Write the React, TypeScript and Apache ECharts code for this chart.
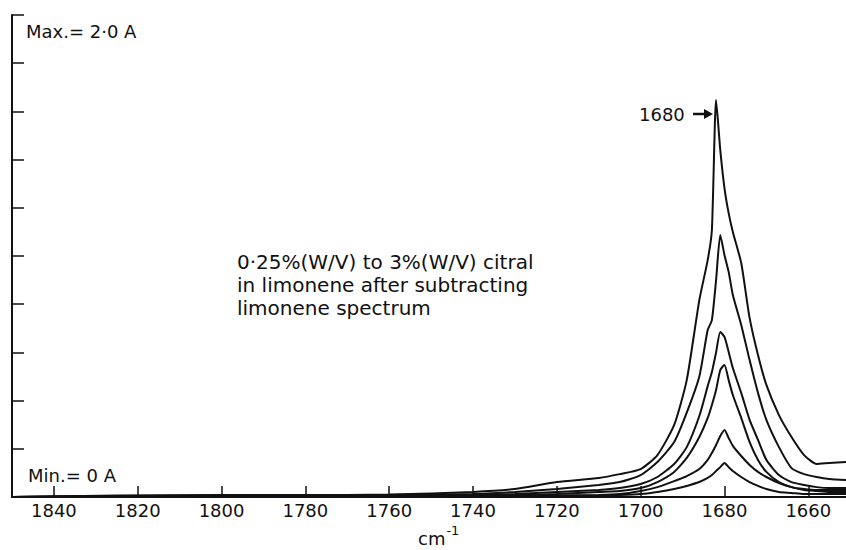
import React, { useEffect, useRef } from "react";
import * as echarts from "echarts";

// Wavenumbers (cm^-1), shared by all traces
const wavenumbers = [1850, 1825, 1800, 1780, 1760, 1740, 1730, 1720, 1710, 1705, 1700, 1696, 1692, 1689, 1686, 1684, 1683, 1682, 1681, 1680, 1679, 1678, 1676, 1674, 1672, 1670, 1667, 1664, 1661, 1658, 1655, 1651];

// Absorbance traces (A), 3% down to 0.25% citral
const trace3 = [0, 0.006, 0.008, 0.008, 0.01, 0.021, 0.033, 0.062, 0.079, 0.095, 0.116, 0.174, 0.299, 0.485, 0.817, 0.983, 1.108, 1.647, 1.44, 1.282, 1.178, 1.1, 0.971, 0.743, 0.589, 0.465, 0.34, 0.249, 0.174, 0.137, 0.141, 0.145];
const trace2 = [0, 0.004, 0.006, 0.006, 0.008, 0.012, 0.021, 0.033, 0.05, 0.062, 0.091, 0.145, 0.228, 0.35, 0.5, 0.693, 0.734, 0.9, 1.087, 1.004, 0.934, 0.838, 0.714, 0.568, 0.432, 0.32, 0.207, 0.12, 0.095, 0.083, 0.075, 0.071];
const trace15 = [0, 0.003, 0.004, 0.004, 0.005, 0.008, 0.012, 0.021, 0.029, 0.037, 0.054, 0.083, 0.137, 0.207, 0.336, 0.46, 0.519, 0.6, 0.685, 0.664, 0.602, 0.535, 0.432, 0.32, 0.237, 0.154, 0.091, 0.062, 0.05, 0.041, 0.037, 0.037];
const trace1 = [0, 0.002, 0.003, 0.003, 0.003, 0.004, 0.008, 0.012, 0.021, 0.025, 0.037, 0.062, 0.104, 0.162, 0.249, 0.328, 0.382, 0.444, 0.527, 0.548, 0.485, 0.423, 0.328, 0.228, 0.154, 0.104, 0.062, 0.041, 0.033, 0.029, 0.029, 0.029];
const trace05 = [0, 0.001, 0.002, 0.002, 0.002, 0.002, 0.004, 0.006, 0.008, 0.012, 0.025, 0.041, 0.066, 0.087, 0.116, 0.154, 0.183, 0.216, 0.253, 0.278, 0.245, 0.212, 0.17, 0.133, 0.104, 0.083, 0.058, 0.041, 0.029, 0.025, 0.021, 0.021];
const trace025 = [0, 0, 0.001, 0.001, 0.001, 0.002, 0.003, 0.004, 0.006, 0.008, 0.012, 0.021, 0.033, 0.046, 0.062, 0.079, 0.091, 0.108, 0.124, 0.141, 0.124, 0.108, 0.083, 0.062, 0.046, 0.033, 0.021, 0.017, 0.012, 0.012, 0.012, 0.012];

const traces = [trace3, trace2, trace15, trace1, trace05, trace025];

// Axes
const xMin = 1651;
const xMax = 1850;
const xTicks = [1840, 1820, 1800, 1780, 1760, 1740, 1720, 1700, 1680, 1660];
const yMin = 0;
const yMax = 2;
const yStep = 0.2;

const maxLabel = "Max.= 2·0 A";
const minLabel = "Min.= 0 A";
const peakLabel = "1680";
const noteLines = [
  "0·25%(W/V) to 3%(W/V) citral",
  "in limonene after subtracting",
  "limonene spectrum",
];

const FONT = "DejaVu Sans";
const INK = "#111111";

export default function App() {
  const ref = useRef<HTMLDivElement>(null);

  useEffect(() => {
    if (!ref.current) return;
    const chart = echarts.init(ref.current, undefined, { renderer: "svg", width: 846, height: 550 });

    const series = traces.map((t) => ({
      type: "line",
      data: wavenumbers.map((w, i) => [w, t[i]]),
      showSymbol: false,
      smooth: 0.2,
      lineStyle: { color: INK, width: 2 },
    }));

    chart.setOption({
      animation: false,
      backgroundColor: "#ffffff",
      grid: { left: 12, right: 0, top: 15, bottom: 53 },
      xAxis: {
        type: "value",
        inverse: true,
        min: xMin,
        max: xMax,
        axisLine: { show: true, lineStyle: { color: INK, width: 2 } },
        axisTick: {
          show: true,
          inside: true,
          length: 11,
          customValues: xTicks,
          lineStyle: { color: INK, width: 1.5 },
        },
        axisLabel: {
          margin: 4,
          color: INK,
          fontFamily: FONT,
          fontSize: 18,
          customValues: xTicks,
          formatter: (v: number) => String(v),
        },
        splitLine: { show: false },
      },
      yAxis: {
        type: "value",
        min: yMin,
        max: yMax,
        interval: yStep,
        axisLine: { show: true, lineStyle: { color: INK, width: 2 } },
        axisTick: { show: true, inside: true, length: 12, lineStyle: { color: INK, width: 1.5 } },
        axisLabel: { show: false },
        splitLine: { show: false },
      },
      series,
      graphic: [
        {
          type: "text",
          left: 26,
          top: 22,
          style: { text: maxLabel, font: `18px ${FONT}`, fill: INK },
        },
        {
          type: "text",
          left: 28,
          top: 466,
          style: { text: minLabel, font: `18px ${FONT}`, fill: INK },
        },
        {
          type: "text",
          left: 639,
          top: 105,
          style: { text: peakLabel, font: `18px ${FONT}`, fill: INK },
        },
        {
          type: "line",
          shape: { x1: 693, y1: 114, x2: 706, y2: 114 },
          style: { stroke: INK, lineWidth: 2.5 },
        },
        {
          type: "polygon",
          shape: { points: [[704, 109], [713, 114], [704, 119]] },
          style: { fill: INK },
        },
        {
          type: "text",
          left: 237,
          top: 250,
          style: {
            text: noteLines.join("\n"),
            font: `20px ${FONT}`,
            lineHeight: 23,
            fill: INK,
          },
        },
        {
          type: "text",
          left: 418,
          top: 524,
          style: {
            text: "{b|cm}{s|-1}",
            rich: {
              b: { font: `18px ${FONT}`, fill: INK, verticalAlign: "bottom" },
              s: { font: `13px ${FONT}`, fill: INK, padding: [0, 0, 10, 1] },
            },
          },
        },
      ],
    });

    return () => chart.dispose();
  }, []);

  return (
    <div style={{ position: "fixed", left: 0, top: 0, width: 846, height: 550, overflow: "hidden", background: "#fff" }}>
      <div ref={ref} style={{ width: 846, height: 550 }} />
    </div>
  );
}
